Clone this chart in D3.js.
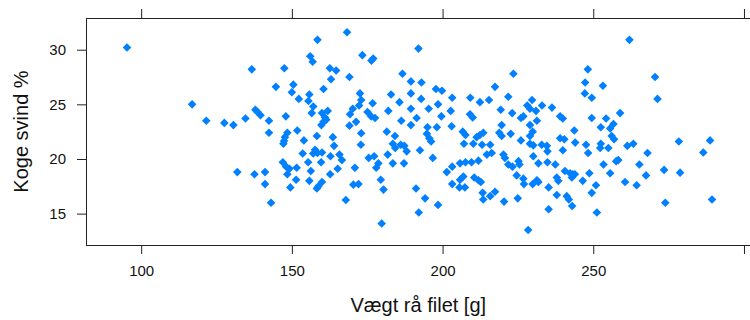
<!DOCTYPE html>
<html>
<head>
<meta charset="utf-8">
<script src="https://cdn.jsdelivr.net/npm/d3@7"></script>
<style>
  html, body { margin: 0; padding: 0; background: #fff; }
  svg { display: block; }
  text { font-family: "Liberation Sans", Arial, sans-serif; }
</style>
</head>
<body>
<svg id="chart" width="750" height="320"></svg>
<script>
// ---- data ----
const weight = [
  95.3,116.9,121.6,136.7,147.5,144.7,150.0,127.6,130.6,134.6,137.9,138.6,139.6,142.4,148.0,142.4,148.5,147.7,147.4,147.2,147.0,148.1,149.2,148.5,131.9,137.6,141.1,141.1,149.5,143.1,
  168.3,158.5,156.1,156.9,173.4,176.4,177.0,162.6,164.7,163.0,169.1,150.5,160.5,152.3,155.8,155.5,157.1,156.6,172.6,173.0,172.3,176.8,170.2,169.3,175.1,176.3,177.6,160.0,161.9,161.0,160.5,159.8,161.4,171.3,169.1,173.0,151.8,158.3,154.0,163.6,164.0,172.9,157.7,158.5,160.0,157.1,153.6,162.8,165.8,166.6,155.4,159.7,151.6,156.3,165.2,170.9,175.5,177.3,178.7,178.0,162.7,155.8,160.0,158.8,158.3,151.4,170.4,172.1,179.5,180.4,167.9,179.8,
  192.0,186.7,189.5,193.0,182.9,189.5,197.8,199.8,192.9,203.2,209.2,185.7,182.0,189.5,195.4,198.5,202.7,209.1,210.0,186.3,191.4,199.6,189.5,195.0,198.1,203.0,181.5,184.2,194.8,195.6,196.2,206.7,207.6,183.5,184.3,186.1,187.3,188.1,192.5,207.1,181.8,183.5,187.2,196.75,203.2,201.4,205.8,207.6,209.6,206.9,205.8,203.2,205.6,207.4,191.2,194.2,198.5,192.1,
  223.5,217.4,221.8,212.4,215.4,229.7,228.1,229.0,233.0,236.3,231.0,219.3,223.1,226.0,226.8,231.3,229.0,239.0,239.9,219.6,218.8,219.6,222.6,229.9,229.0,212.4,213.5,211.3,226.0,239.0,240.4,239.9,210.2,213.1,215.8,229.0,230.1,232.9,234.6,234.8,214.7,216.3,220.2,220.7,211.9,221.8,223.2,225.2,225.5,230.1,231.8,234.8,237.4,240.6,210.5,211.9,212.7,224.6,226.8,227.0,229.9,231.3,231.8,237.9,238.4,235.2,213.3,213.5,215.8,217.4,220.4,224.95,237.9,241.2,235.2,228.4,
  262.0,248.2,247.3,253.2,247.2,249.5,249.5,254.25,258.9,252.5,256.7,255.6,256.1,256.9,243.7,244.0,247.6,248.3,252.5,252.3,255.0,261.3,263.3,268.0,253.4,257.6,258.3,265.3,267.5,255.6,248.7,242.3,243.2,243.9,242.9,246.5,250.9,249.5,260.55,264.4,241.9,243.0,251.2,
  270.5,271.3,278.4,288.75,286.5,273.5,278.8,273.9,289.4
];
const loss = [
  30.2,25.0,23.5,28.2,28.3,26.6,26.1,23.3,23.1,23.7,24.5,24.3,24.0,23.5,23.9,22.4,22.4,22.0,21.65,21.4,19.7,19.3,19.1,18.6,18.8,18.6,18.8,17.7,17.4,16.0,
  31.6,30.9,29.4,28.9,29.5,29.0,29.2,28.3,28.1,27.3,27.5,26.8,26.4,25.5,25.9,25.3,24.8,24.2,26.0,25.4,24.9,25.1,24.6,24.1,24.3,23.9,23.75,24.2,24.4,23.8,23.4,23.1,23.6,23.4,23.05,22.35,22.6,22.1,21.7,22.0,21.2,21.3,20.85,20.55,20.6,20.5,20.5,20.25,20.4,19.9,19.7,19.7,19.2,18.9,19.1,19.2,20.1,20.25,19.6,19.2,18.6,18.0,17.9,17.5,17.3,18.1,17.65,17.7,18.1,17.2,16.25,14.1,
  30.1,27.8,27.1,27.0,25.9,26.0,26.4,26.25,25.5,25.6,25.6,25.2,24.4,24.6,24.6,25.0,24.4,24.1,23.8,23.5,23.75,23.9,23.1,22.9,22.9,23.0,22.5,22.1,22.3,21.9,21.6,22.5,22.2,21.4,21.0,21.3,21.2,20.7,20.8,21.4,20.4,19.6,19.6,20.1,19.3,18.8,19.6,19.7,19.7,18.4,18.1,17.7,17.4,17.4,17.3,16.4,15.8,15.1,
  27.8,26.6,25.7,25.2,25.4,25.4,24.9,24.6,24.9,24.7,24.4,24.5,24.2,23.75,23.9,23.5,23.1,23.9,23.7,23.1,22.4,22.1,22.3,22.5,22.1,22.2,22.4,22.0,21.7,21.9,21.8,20.8,21.4,21.3,21.3,21.4,21.25,21.3,21.2,20.7,20.4,20.55,20.4,20.1,19.85,19.5,19.3,19.8,19.5,20.25,19.6,19.7,19.5,18.9,18.3,18.05,17.9,18.5,18.2,17.7,17.7,18.05,17.9,18.3,18.0,17.4,16.9,16.3,16.6,17.0,16.1,16.4,16.7,16.6,15.4,13.5,
  30.9,28.2,27.0,26.7,26.0,25.6,23.75,23.7,24.2,22.9,23.2,22.8,22.1,21.8,22.6,21.5,21.3,20.55,21.4,21.0,21.0,21.2,21.4,20.55,19.5,19.8,19.9,19.5,18.5,18.7,18.7,18.7,18.6,18.6,18.3,18.0,17.6,16.9,17.9,17.6,16.3,15.7,15.1,
  27.5,25.5,21.6,21.7,20.6,19.0,18.75,16.0,16.3
];
const xTicks = [100, 150, 200, 250, 300];
const xTickLabels = ["100", "150", "200", "250", ""];
const yTicks = [15, 20, 25, 30];
const yTickLabels = ["15", "20", "25", "30"];
const xTitle = "Vægt rå filet [g]";
const yTitle = "Koge svind %";

// ---- layout ----
const padL = 86, padR = 750.6, padT = 18, padB = 245;
const svg = d3.select("#chart");

const x = d3.scaleLinear().domain([81.7, 302.2]).range([padL, padR]);
const y = d3.scaleLinear().domain([12.13, 32.9]).range([padB, padT]);

const axisColor = "#222";

// bottom axis
const gB = svg.append("g").attr("transform", `translate(0,${padB})`)
  .call(d3.axisBottom(x).tickValues(xTicks).tickSize(9).tickPadding(11)
    .tickFormat((d, i) => xTickLabels[i]));
// top axis (ticks only)
const gT = svg.append("g").attr("transform", `translate(0,${padT})`)
  .call(d3.axisTop(x).tickValues(xTicks).tickSize(9).tickFormat(""));
// left axis
const gL = svg.append("g").attr("transform", `translate(${padL},0)`)
  .call(d3.axisLeft(y).tickValues(yTicks).tickSize(9).tickPadding(11)
    .tickFormat((d, i) => yTickLabels[i]));

[gB, gT, gL].forEach(g => {
  g.select(".domain").remove();
  g.selectAll(".tick line").attr("stroke", axisColor).attr("stroke-width", 1);
  g.selectAll(".tick text").attr("fill", "#111")
    .style("font-family", '"Liberation Sans", Arial, sans-serif')
    .style("font-size", "15px");
});

// frame
svg.append("rect")
  .attr("x", padL + 0.5).attr("y", padT + 0.5)
  .attr("width", padR - padL).attr("height", padB - padT)
  .attr("fill", "none").attr("stroke", axisColor).attr("stroke-width", 1);

// points (filled diamonds)
const pts = weight.map((w, i) => ({ w, l: loss[i] }));
const r = 4.3;
svg.append("g").selectAll("path").data(pts).join("path")
  .attr("transform", d => `translate(${x(d.w)},${y(d.l)})`)
  .attr("d", `M0,${-r}L${r},0L0,${r}L${-r},0Z`)
  .attr("fill", "#0080ff");

// titles
svg.append("text")
  .attr("x", (padL + padR) / 2).attr("y", 312)
  .attr("text-anchor", "middle")
  .style("font-size", "20px").attr("fill", "#111")
  .text(xTitle);

svg.append("text")
  .attr("transform", `translate(28,${(padT + padB) / 2}) rotate(-90)`)
  .attr("text-anchor", "middle")
  .style("font-size", "20px").attr("fill", "#111")
  .text(yTitle);
</script>
</body>
</html>
